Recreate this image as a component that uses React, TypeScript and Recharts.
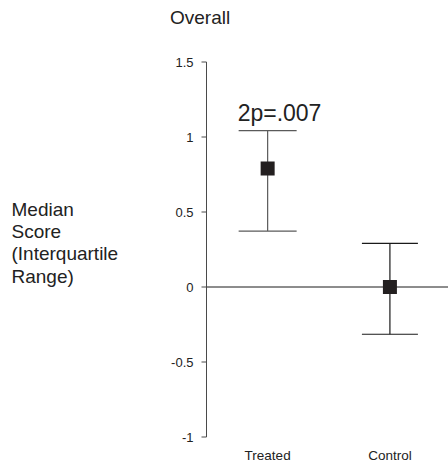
import React from 'react';
import {
  ComposedChart,
  Scatter,
  ErrorBar,
  XAxis,
  YAxis,
  ReferenceLine,
  ReferenceDot,
} from 'recharts';

// Group medians with interquartile range
const groups = ['Treated', 'Control'];
const groupX = [1, 3];
const medians = [0.79, 0];
const lowerQ = [0.373, -0.315];
const upperQ = [1.042, 0.291];
const yTicks = [-1, -0.5, 0, 0.5, 1, 1.5];
const pLabel = '2p=.007';

const FONT = '"Liberation Sans", Arial, Helvetica, sans-serif';
const INK = '#222';

const rows = groups.map((name, i) => ({
  name,
  x: groupX[i],
  median: medians[i],
  iqr: [medians[i] - lowerQ[i], upperQ[i] - medians[i]],
}));

const Square = (props: any) => {
  const { cx, cy } = props;
  return <rect x={cx - 7} y={cy - 7} width={14} height={14} fill="#231f20" />;
};

const PLabel = (props: any) => {
  const vb = props.viewBox || {};
  return (
    <text
      x={vb.x - 30}
      y={vb.y - 10}
      textAnchor="start"
      fontSize={23}
      fontFamily={FONT}
      fill={INK}
    >
      {pLabel}
    </text>
  );
};

const App = () => {
  return (
    <div
      style={{
        position: 'absolute',
        left: 0,
        top: 0,
        width: 448,
        height: 464,
        fontFamily: FONT,
        color: INK,
      }}
    >
      <div
        style={{
          position: 'absolute',
          left: 170,
          top: 8,
          fontSize: 19,
          lineHeight: '19px',
        }}
      >
        Overall
      </div>
      <div
        style={{
          position: 'absolute',
          left: 11.5,
          top: 199,
          fontSize: 19,
          lineHeight: '22.2px',
        }}
      >
        Median
        <br />
        Score
        <br />
        (Interquartile
        <br />
        Range)
      </div>

      <ComposedChart
        width={448}
        height={464}
        margin={{ top: 62, right: 0, bottom: 0, left: 0 }}
      >
        <XAxis
          type="number"
          dataKey="x"
          domain={[0, 3.95]}
          ticks={groupX}
          tickFormatter={(v: number) => groups[groupX.indexOf(v)] ?? ''}
          axisLine={false}
          tickLine={false}
          tickSize={6}
          tickMargin={7}
          height={27}
          tick={{ fontSize: 13.5, fill: INK, fontFamily: FONT }}
          allowDataOverflow
        />
        <YAxis
          type="number"
          domain={[-1, 1.5]}
          ticks={yTicks}
          width={206.5}
          tickSize={5}
          tickMargin={8}
          axisLine={{ stroke: '#4a4a4a' }}
          tickLine={{ stroke: '#4a4a4a' }}
          tick={{ fontSize: 13, fill: INK, fontFamily: FONT }}
          allowDataOverflow
        />
        <ReferenceLine y={0} stroke="#1a1a1a" strokeWidth={1} />
        <Scatter
          data={[rows[0]]}
          dataKey="median"
          shape={<Square />}
          isAnimationActive={false}
        >
          <ErrorBar
            dataKey="iqr"
            direction="y"
            width={29}
            stroke="#5a5a5a"
            strokeWidth={1.2}
            isAnimationActive={false}
          />
        </Scatter>
        <Scatter
          data={[rows[1]]}
          dataKey="median"
          shape={<Square />}
          isAnimationActive={false}
        >
          <ErrorBar
            dataKey="iqr"
            direction="y"
            width={28}
            stroke="#1a1a1a"
            strokeWidth={1.2}
            isAnimationActive={false}
          />
        </Scatter>
        <ReferenceDot
          x={groupX[0]}
          y={upperQ[0]}
          r={0}
          fill="none"
          stroke="none"
          label={<PLabel />}
        />
      </ComposedChart>
    </div>
  );
};

export default App;
